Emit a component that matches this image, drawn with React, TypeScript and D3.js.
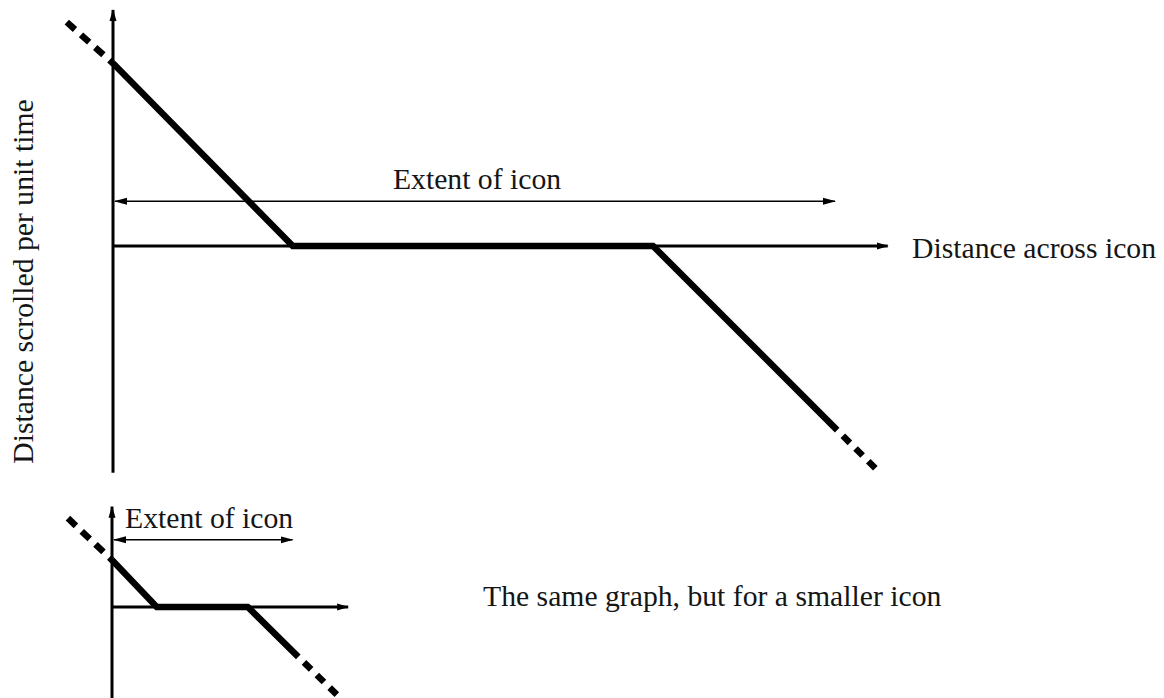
import * as d3 from 'd3'

// Scroll speed vs. position across the icon, in arbitrary units
// (both graphs share the same unit so the slopes match)
const MAIN_CURVE = [
  { x: 0, y: 25.3 },
  { x: 24.9, y: 0 },
  { x: 74.8, y: 0 },
  { x: 100.3, y: -25.5 },
]
const MAIN_LEAD = [
  { x: -6.4, y: 31.0 },
  { x: 0, y: 25.3 },
]
const MAIN_TAIL = [
  { x: 100.3, y: -25.5 },
  { x: 106.2, y: -31.4 },
]
const MAIN_EXTENT = { from: 0, to: 100, level: 6.2 }
const MAIN_AXES = { xMax: 107.3, yMin: -31.4, yMax: 32.7 }

const SMALL_CURVE = [
  { x: 0, y: 6.5 },
  { x: 6.2, y: 0 },
  { x: 18.8, y: 0 },
  { x: 25.8, y: -6.9 },
]
const SMALL_LEAD = [
  { x: -6.1, y: 12.3 },
  { x: 0, y: 6.5 },
]
const SMALL_TAIL = [
  { x: 25.8, y: -6.9 },
  { x: 31.2, y: -12.2 },
]
const SMALL_EXTENT = { from: 0, to: 25, level: 9.3 }
const SMALL_AXES = { xMax: 32.7, yMin: -12.8, yMax: 13.9 }

const Y_LABEL = 'Distance scrolled per unit time'
const X_LABEL = 'Distance across icon'
const EXTENT_LABEL = 'Extent of icon'
const SMALL_CAPTION = 'The same graph, but for a smaller icon'

const WIDTH = 1164
const HEIGHT = 698
const UNIT = 7.22 // px per unit
const FONT = "'Liberation Serif', serif"
const FONT_SIZE = 29.7
const INK = '#151515'

type Pt = { x: number; y: number }

function Graph({ origin, curve, lead, tail, extent, axes, extentLabelAnchor }: {
  origin: [number, number]
  curve: Pt[]
  lead: Pt[]
  tail: Pt[]
  extent: { from: number; to: number; level: number }
  axes: { xMax: number; yMin: number; yMax: number }
  extentLabelAnchor: 'middle' | 'start'
}) {
  const x = d3.scaleLinear().domain([0, 1]).range([origin[0], origin[0] + UNIT])
  const y = d3.scaleLinear().domain([0, 1]).range([origin[1], origin[1] - UNIT])
  const line = d3.line<Pt>().x(d => x(d.x)).y(d => y(d.y))

  const labelX = extentLabelAnchor === 'middle'
    ? x((extent.from + extent.to) / 2) + 3
    : x(extent.from) + 13

  return (
    <g>
      {/* axes */}
      <line x1={x(0)} x2={x(0)} y1={y(axes.yMin)} y2={y(axes.yMax)}
        stroke="#000" strokeWidth={3} markerEnd="url(#axisHead)" />
      <line x1={x(0)} x2={x(axes.xMax)} y1={y(0)} y2={y(0)}
        stroke="#000" strokeWidth={2.8} markerEnd="url(#axisHead)" />

      {/* extent arrow */}
      <line x1={x(extent.from) + 2} x2={x(extent.to)} y1={y(extent.level)} y2={y(extent.level)}
        stroke="#000" strokeWidth={1.5}
        markerStart="url(#thinHead)" markerEnd="url(#thinHead)" />
      <text x={labelX} y={y(extent.level) - 12} textAnchor={extentLabelAnchor}
        fontFamily={FONT} fontSize={FONT_SIZE} fill={INK}>{EXTENT_LABEL}</text>

      {/* scroll speed curve */}
      <path d={line(curve) ?? ''} fill="none" stroke="#000" strokeWidth={6.5}
        strokeLinejoin="miter" />
      <path d={line(lead) ?? ''} fill="none" stroke="#000" strokeWidth={6.5}
        strokeDasharray="11,8" />
      <path d={line(tail) ?? ''} fill="none" stroke="#000" strokeWidth={6.5}
        strokeDasharray="10,8" strokeDashoffset={10} />
    </g>
  )
}

export default function App() {
  return (
    <svg width={WIDTH} height={HEIGHT} viewBox={`0 0 ${WIDTH} ${HEIGHT}`}
      style={{ position: 'absolute', left: 0, top: 0, display: 'block', background: '#fff' }}>
      <defs>
        <marker id="axisHead" viewBox="0 0 12 8" refX={11} refY={4}
          markerWidth={12} markerHeight={8} markerUnits="userSpaceOnUse" orient="auto-start-reverse">
          <path d="M0,0.5 L12,4 L0,7.5 Z" fill="#000" />
        </marker>
        <marker id="thinHead" viewBox="0 0 13 8" refX={12} refY={4}
          markerWidth={13} markerHeight={8} markerUnits="userSpaceOnUse" orient="auto-start-reverse">
          <path d="M0,0.5 L13,4 L0,7.5 Z" fill="#000" />
        </marker>
      </defs>

      <Graph origin={[113, 246]} curve={MAIN_CURVE} lead={MAIN_LEAD} tail={MAIN_TAIL}
        extent={MAIN_EXTENT} axes={MAIN_AXES} extentLabelAnchor="middle" />
      <Graph origin={[112, 607]} curve={SMALL_CURVE} lead={SMALL_LEAD} tail={SMALL_TAIL}
        extent={SMALL_EXTENT} axes={SMALL_AXES} extentLabelAnchor="start" />

      <text x={912} y={258} fontFamily={FONT} fontSize={FONT_SIZE} fill={INK}>{X_LABEL}</text>
      <text transform="translate(33,281.5) rotate(-90)" textAnchor="middle"
        fontFamily={FONT} fontSize={FONT_SIZE} fill={INK}>{Y_LABEL}</text>
      <text x={483} y={606} fontFamily={FONT} fontSize={FONT_SIZE} fill={INK}>{SMALL_CAPTION}</text>
    </svg>
  )
}
